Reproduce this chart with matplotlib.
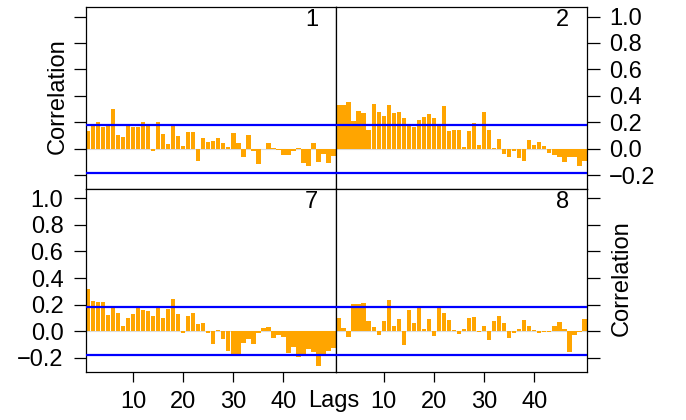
import numpy as np
import matplotlib
matplotlib.use("Agg")
import matplotlib.pyplot as plt

plt.rcParams['font.family'] = ['Liberation Sans', 'DejaVu Sans']

# lags 1..50 and autocorrelations
lags = np.arange(1, 51)

acf_1 = [0.133, 0.171, 0.201, 0.166, 0.179, 0.299, 0.103, 0.088, 0.176, 0.166,
         0.164, 0.201, 0.176, -0.018, 0.201, 0.111, 0.035, 0.176, 0.096, 0.020,
         0.126, 0.126, -0.093, 0.080, 0.050, 0.058, 0.080, 0.043, 0.013, 0.118,
         0.043, -0.063, 0.103, -0.018, -0.116, -0.005, 0.043, 0.005, -0.010, -0.048,
         -0.048, -0.018, 0.005, -0.108, -0.131, 0.043, -0.101, -0.040, -0.108, -0.055]

acf_2 = [0.327, 0.327, 0.352, 0.209, 0.284, 0.269, 0.141, 0.337, 0.277, 0.247,
         0.330, 0.269, 0.277, 0.231, 0.171, 0.164, 0.216, 0.239, 0.262, 0.231,
         0.179, 0.322, 0.133, 0.141, 0.141, 0.013, 0.133, 0.194, 0.028, 0.277,
         0.141, 0.008, 0.073, -0.040, -0.063, -0.015, -0.070, -0.093, 0.065, 0.028,
         0.050, 0.020, -0.033, -0.048, -0.063, -0.101, -0.063, -0.063, -0.131, -0.093]

acf_7 = [0.317, 0.226, 0.219, 0.219, 0.121, 0.174, 0.136, 0.038, 0.098, 0.128,
         0.174, 0.158, 0.151, 0.113, 0.174, 0.098, 0.166, 0.242, 0.128, -0.015,
         0.113, 0.136, 0.053, 0.060, -0.013, -0.098, 0.008, -0.060, -0.151, -0.174,
         -0.174, -0.090, -0.060, -0.098, -0.013, 0.023, 0.030, -0.053, -0.030, -0.045,
         -0.166, -0.121, -0.196, -0.174, -0.136, -0.159, -0.264, -0.189, -0.151, -0.128]

acf_8 = [0.098, 0.023, -0.045, 0.204, 0.204, 0.211, 0.075, 0.030, -0.030, 0.075,
         0.234, 0.038, 0.091, -0.106, 0.158, 0.060, 0.181, 0.015, 0.091, -0.038,
         0.181, 0.136, 0.083, 0.008, -0.023, 0.015, 0.098, 0.106, -0.005, 0.038,
         -0.068, 0.075, 0.113, 0.060, -0.053, -0.015, 0.015, 0.083, 0.038, 0.008,
         -0.010, -0.008, -0.008, 0.038, 0.068, 0.015, -0.158, -0.030, -0.008, 0.091]

panel_names = ["1", "2", "7", "8"]
conf_bound = 0.181
yticks = [-0.2, 0.0, 0.2, 0.4, 0.6, 0.8, 1.0]
xticks = [10, 20, 30, 40]

W, H = 686, 420
fig = plt.figure(figsize=(W / 100, H / 100), dpi=100)

# panel edges in pixels
x0, xm, x1 = 85.7, 336, 587
y0, ym, y1 = 7.3, 189, 371.7

boxes = [(x0, y0, xm, ym), (xm, y0, x1, ym), (x0, ym, xm, y1), (xm, ym, x1, y1)]
series = [acf_1, acf_2, acf_7, acf_8]

fs = 17
for i, (box, vals, name) in enumerate(zip(boxes, series, panel_names)):
    l, t, r, b = box
    ax = fig.add_axes([l / W, 1 - b / H, (r - l) / W, (b - t) / H])
    ax.axhline(0, color='#d9d9d9', lw=0.8, zorder=1)
    ax.bar(lags, vals, width=0.85, color='#FFA500', zorder=2)
    ax.axhline(conf_bound, color='#0000FF', lw=1.6, zorder=3)
    ax.axhline(-conf_bound, color='#0000FF', lw=1.6, zorder=3)
    ax.set_xlim(0.5, 50.5)
    ax.set_ylim(-0.305, 1.07)
    for s in ax.spines.values():
        s.set_linewidth(0.9)
    ax.text(1 - 18 / (r - l), 1 - 2 / (b - t), name, transform=ax.transAxes,
            ha='right', va='top', fontsize=fs)

    ax.set_yticks(yticks)
    ax.set_yticklabels([f"{v:.1f}".replace("-", "\u2212") for v in yticks])
    left = (i % 2 == 0)
    top = (i < 2)
    ax.tick_params(axis='y', direction='out', length=9, width=0.9, labelsize=fs,
                   pad=7, left=left, right=not left,
                   labelleft=(left and not top), labelright=(not left and top))
    if top:
        ax.set_xticks([])
    else:
        ax.set_xticks(xticks)
        ax.tick_params(axis='x', direction='out', length=7, width=0.9,
                       labelsize=fs, pad=7)

fig.text(58 / W, 1 - 96 / H, "Correlation", rotation=90, ha='center',
         va='center', fontsize=fs)
fig.text(622 / W, 1 - 278 / H, "Correlation", rotation=90, ha='center',
         va='center', fontsize=fs)
fig.text(334 / W, 1 - 407 / H, "Lags", ha='center', va='baseline', fontsize=fs)

fig.savefig("out.png", dpi=100)
